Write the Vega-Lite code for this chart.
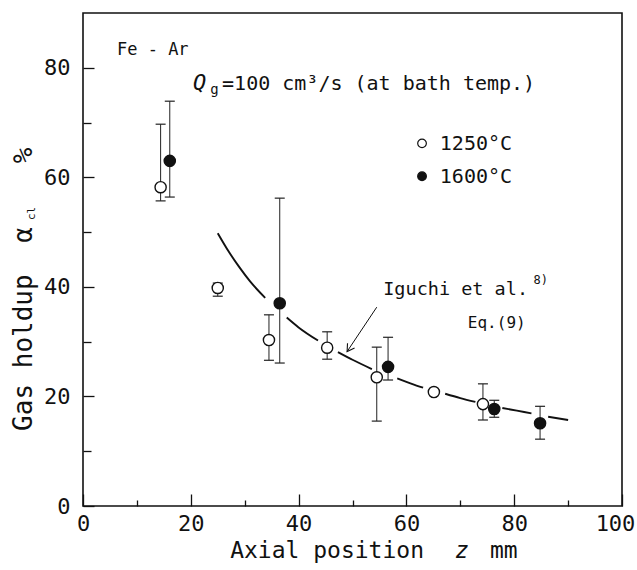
{
  "$schema": "https://vega.github.io/schema/vega-lite/v6.json",
  "width": 539,
  "height": 493,
  "autosize": {"type": "none"},
  "padding": {"left": 83, "top": 13, "right": 15, "bottom": 64},
  "background": "white",
  "config": {
    "view": {"stroke": "#111", "strokeWidth": 1.6},
    "font": "DejaVu Sans Mono",
    "text": {"font": "DejaVu Sans Mono", "color": "#111"},
    "axis": {"domain": false, "grid": false, "tickColor": "#111", "tickWidth": 1.3, "labelColor": "#111", "labelFont": "DejaVu Sans Mono", "labelFontSize": 22}
  },
  "datasets": {
    "points": [
      {"series": "1250°C", "z": 14.4, "v": 58.2},
      {"series": "1250°C", "z": 25.0, "v": 39.8},
      {"series": "1250°C", "z": 34.5, "v": 30.3},
      {"series": "1250°C", "z": 45.3, "v": 28.9},
      {"series": "1250°C", "z": 54.5, "v": 23.5},
      {"series": "1250°C", "z": 65.1, "v": 20.8},
      {"series": "1250°C", "z": 74.2, "v": 18.6},
      {"series": "1600°C", "z": 16.1, "v": 63.0},
      {"series": "1600°C", "z": 36.5, "v": 37.0},
      {"series": "1600°C", "z": 56.6, "v": 25.4},
      {"series": "1600°C", "z": 76.3, "v": 17.7},
      {"series": "1600°C", "z": 84.8, "v": 15.1}
    ],
    "err": [
      {"series": "1250°C", "z": 14.4, "v": 55.7, "hi": 69.7},
      {"series": "1250°C", "z": 25.0, "v": 38.3, "hi": 40.7},
      {"series": "1250°C", "z": 34.5, "v": 26.6, "hi": 34.9},
      {"series": "1250°C", "z": 45.3, "v": 26.8, "hi": 31.8},
      {"series": "1250°C", "z": 54.5, "v": 15.5, "hi": 29.0},
      {"series": "1250°C", "z": 74.2, "v": 15.7, "hi": 22.3},
      {"series": "1600°C", "z": 16.1, "v": 56.4, "hi": 73.9},
      {"series": "1600°C", "z": 36.5, "v": 26.1, "hi": 56.2},
      {"series": "1600°C", "z": 56.6, "v": 23.0, "hi": 30.8},
      {"series": "1600°C", "z": 76.3, "v": 16.2, "hi": 19.3},
      {"series": "1600°C", "z": 84.8, "v": 12.2, "hi": 18.2}
    ],
    "errTop": [
      {"z": 14.4, "v": 69.7},
      {"z": 25.0, "v": 40.7},
      {"z": 34.5, "v": 34.9},
      {"z": 45.3, "v": 31.8},
      {"z": 54.5, "v": 29.0},
      {"z": 74.2, "v": 22.3},
      {"z": 16.1, "v": 73.9},
      {"z": 36.5, "v": 56.2},
      {"z": 56.6, "v": 30.8},
      {"z": 76.3, "v": 19.3},
      {"z": 84.8, "v": 18.2}
    ],
    "curve": [
      {"seg": "A", "z": 25.0, "v": 49.8},
      {"seg": "A", "z": 27.0, "v": 46.5},
      {"seg": "A", "z": 29.0, "v": 43.6},
      {"seg": "A", "z": 31.0, "v": 41.0},
      {"seg": "A", "z": 33.8, "v": 38.0},
      {"seg": "B1", "z": 37.8, "v": 34.4},
      {"seg": "B1", "z": 40.0, "v": 32.6},
      {"seg": "B1", "z": 43.6, "v": 30.2},
      {"seg": "B2", "z": 47.3, "v": 28.1},
      {"seg": "B2", "z": 50.0, "v": 26.7},
      {"seg": "B2", "z": 53.6, "v": 25.0},
      {"seg": "C1", "z": 58.3, "v": 23.3},
      {"seg": "C1", "z": 61.0, "v": 22.3},
      {"seg": "C1", "z": 63.1, "v": 21.6},
      {"seg": "C2", "z": 67.2, "v": 20.5},
      {"seg": "C2", "z": 70.0, "v": 19.7},
      {"seg": "C2", "z": 72.8, "v": 19.0},
      {"seg": "D", "z": 77.8, "v": 17.9},
      {"seg": "D", "z": 80.5, "v": 17.4},
      {"seg": "D", "z": 83.2, "v": 16.9},
      {"seg": "E", "z": 86.3, "v": 16.3},
      {"seg": "E", "z": 90.0, "v": 15.7}
    ],
    "arrow": [{"z": 54.5, "v": 36.3, "z2": 49.0, "v2": 28.2}],
    "arrowTip": [{"z": 49.0, "v": 28.2}],
    "legendKeys": [
      {"series": "1250°C", "z": 62.9, "v": 66.2},
      {"series": "1600°C", "z": 62.9, "v": 60.2}
    ],
    "tFe": [{"label": "Fe - Ar", "z": 6.3, "v": 82.3}],
    "tQ": [{"label": "Q", "z": 20.4, "v": 75.9}],
    "tG": [{"label": "g", "z": 23.6, "v": 75.2}],
    "tQtext": [{"label": "=100 cm³/s (at bath temp.)", "z": 25.8, "v": 75.9}],
    "tLeg": [
      {"label": "1250°C", "z": 66.2, "v": 65.0},
      {"label": "1600°C", "z": 66.2, "v": 58.9}
    ],
    "tIg": [{"label": "Iguchi et al.", "z": 55.7, "v": 38.5}],
    "tSup": [{"label": "8)", "z": 83.6, "v": 40.6}],
    "tEq": [{"label": "Eq.(9)", "z": 71.4, "v": 32.5}],
    "tX": [
      {"label": "Axial position", "z": 27.3, "v": -9.5},
      {"label": "mm", "z": 75.5, "v": -9.5}
    ],
    "tXz": [{"label": "z", "z": 70.3, "v": -9.5}],
    "tY": [
      {"label": "Gas holdup", "z": -9.5, "v": 28.0},
      {"label": "α", "z": -9.5, "v": 49.5},
      {"label": "%", "z": -9.5, "v": 64.0}
    ],
    "tYcl": [{"label": "cl", "z": -8.9, "v": 53.4}]
  },
  "encoding": {
    "x": {
      "field": "z", "type": "quantitative",
      "scale": {"domain": [0, 100], "nice": false},
      "axis": {
        "values": [0, 10, 20, 30, 40, 50, 60, 70, 80, 90, 100],
        "labelExpr": "datum.value % 20 === 0 ? datum.label : ''",
        "tickSize": {"condition": {"test": "datum.value % 20 === 0", "value": -12}, "value": -6},
        "labelOffset": {"condition": {"test": "datum.value === 100", "value": -7}, "value": 0},
        "labelPadding": 19,
        "labelFlush": false,
        "labelOverlap": false,
        "title": null
      }
    },
    "y": {
      "field": "v", "type": "quantitative",
      "scale": {"domain": [0, 90], "nice": false},
      "axis": {
        "values": [0, 10, 20, 30, 40, 50, 60, 70, 80],
        "labelExpr": "datum.value % 20 === 0 ? datum.label : ''",
        "tickSize": {"condition": {"test": "datum.value % 20 === 0", "value": -11}, "value": -8},
        "labelPadding": 24,
        "labelFlush": false,
        "labelOverlap": false,
        "title": null
      }
    }
  },
  "layer": [
    {
      "data": {"name": "curve"},
      "mark": {"type": "line", "strokeWidth": 1.9, "color": "#111", "interpolate": "monotone"},
      "encoding": {"detail": {"field": "seg", "type": "nominal"}}
    },
    {
      "data": {"name": "arrow"},
      "mark": {"type": "rule", "strokeWidth": 1, "color": "#111"},
      "encoding": {"x2": {"field": "z2"}, "y2": {"field": "v2"}}
    },
    {
      "data": {"name": "arrowTip"},
      "mark": {"type": "point", "shape": "M -0.6 1 L 0 0 L 0.6 1", "filled": false, "size": 200, "angle": 213.8, "stroke": "#111", "strokeWidth": 1.1, "opacity": 1}
    },
    {
      "data": {"name": "err"},
      "mark": {"type": "rule", "strokeWidth": 1, "color": "#222"},
      "encoding": {"y2": {"field": "hi"}}
    },
    {
      "data": {"name": "err"},
      "mark": {"type": "tick", "orient": "horizontal", "size": 10, "thickness": 1.2, "color": "#222", "opacity": 1}
    },
    {
      "data": {"name": "errTop"},
      "mark": {"type": "tick", "orient": "horizontal", "size": 10, "thickness": 1.2, "color": "#222", "opacity": 1}
    },
    {
      "data": {"name": "points"},
      "mark": {"type": "point", "shape": "circle", "filled": true, "size": 125, "stroke": "#111", "strokeWidth": 1.4, "opacity": 1},
      "encoding": {
        "fill": {"field": "series", "type": "nominal", "scale": {"domain": ["1250°C", "1600°C"], "range": ["white", "#111"]}, "legend": null}
      }
    },
    {
      "data": {"name": "legendKeys"},
      "mark": {"type": "point", "shape": "circle", "filled": true, "size": 75, "stroke": "#111", "strokeWidth": 1.2, "opacity": 1},
      "encoding": {
        "fill": {"field": "series", "type": "nominal", "scale": {"domain": ["1250°C", "1600°C"], "range": ["white", "#111"]}, "legend": null}
      }
    },
    {
      "data": {"name": "tFe"},
      "mark": {"type": "text", "fontSize": 17, "align": "left", "baseline": "alphabetic"},
      "encoding": {"text": {"field": "label"}}
    },
    {
      "data": {"name": "tQ"},
      "mark": {"type": "text", "fontSize": 22, "fontStyle": "italic", "align": "left", "baseline": "alphabetic"},
      "encoding": {"text": {"field": "label"}}
    },
    {
      "data": {"name": "tG"},
      "mark": {"type": "text", "fontSize": 14, "align": "left", "baseline": "alphabetic"},
      "encoding": {"text": {"field": "label"}}
    },
    {
      "data": {"name": "tQtext"},
      "mark": {"type": "text", "fontSize": 20, "align": "left", "baseline": "alphabetic"},
      "encoding": {"text": {"field": "label"}}
    },
    {
      "data": {"name": "tLeg"},
      "mark": {"type": "text", "fontSize": 20, "align": "left", "baseline": "alphabetic"},
      "encoding": {"text": {"field": "label"}}
    },
    {
      "data": {"name": "tIg"},
      "mark": {"type": "text", "fontSize": 18.5, "align": "left", "baseline": "alphabetic"},
      "encoding": {"text": {"field": "label"}}
    },
    {
      "data": {"name": "tSup"},
      "mark": {"type": "text", "fontSize": 12, "align": "left", "baseline": "alphabetic"},
      "encoding": {"text": {"field": "label"}}
    },
    {
      "data": {"name": "tEq"},
      "mark": {"type": "text", "fontSize": 16, "align": "left", "baseline": "alphabetic"},
      "encoding": {"text": {"field": "label"}}
    },
    {
      "data": {"name": "tX"},
      "mark": {"type": "text", "fontSize": 23, "align": "left", "baseline": "alphabetic"},
      "encoding": {"text": {"field": "label"}}
    },
    {
      "data": {"name": "tXz"},
      "mark": {"type": "text", "fontSize": 23, "fontStyle": "italic", "align": "center", "baseline": "alphabetic"},
      "encoding": {"text": {"field": "label"}}
    },
    {
      "data": {"name": "tY"},
      "mark": {"type": "text", "fontSize": 26, "angle": 270, "align": "center", "baseline": "alphabetic"},
      "encoding": {"text": {"field": "label"}}
    },
    {
      "data": {"name": "tYcl"},
      "mark": {"type": "text", "fontSize": 11, "angle": 270, "align": "center", "baseline": "alphabetic"},
      "encoding": {"text": {"field": "label"}}
    }
  ]
}
